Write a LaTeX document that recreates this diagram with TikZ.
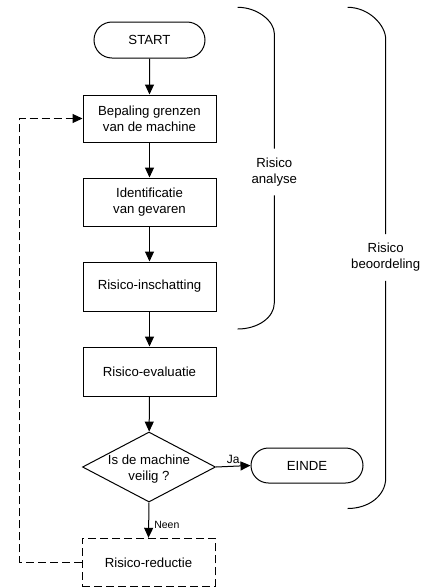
\documentclass[tikz,border=0pt]{standalone}
\usepackage{fontspec}
\setmainfont{Liberation Sans}
\usetikzlibrary{arrows.meta,shapes.geometric,shapes.misc}
\begin{document}
\begin{tikzpicture}[x=1pt,y=-1pt,
  every node/.style={font=\fontsize{13.2}{16}\selectfont, align=center, inner sep=0pt},
  line/.style={line width=1pt},
  arr/.style={line, -{Triangle[length=10pt,width=9pt]}},
  procbox/.style={draw, line, rectangle, minimum width=133pt},
  termbox/.style={draw, line, rounded rectangle, minimum height=35pt},
  decbox/.style={draw, line, diamond, minimum width=133pt, minimum height=70pt},
  dashbox/.style={procbox, dash pattern=on 8pt off 4pt},
  bracelabel/.style={fill=white, inner xsep=2pt, inner ysep=9pt},
  smalllabel/.style={font=\fontsize{10.5}{12}\selectfont}
]
\useasboundingbox (0,0) rectangle (433,587);

\node[termbox, minimum width=111pt, minimum height=36pt] (start) at (149.5,40) {START};
\node[procbox, minimum height=47pt] (b1) at (149.5,118.5) {Bepaling grenzen\\van de machine};
\node[procbox, minimum height=48pt] (b2) at (149.5,202) {Identificatie\\van gevaren};
\node[procbox, minimum height=49pt] (b3) at (149.5,286.5) {Risico-inschatting};
\node[procbox, minimum height=49pt] (b4) at (149.5,371.5) {Risico-evaluatie};
\node[decbox] (dec) at (149,467) {};
\node (dectext) at (149,469) {Is de machine\\veilig ?};
\node[termbox, minimum width=112pt] (einde) at (307,465.5) {EINDE};
\node[dashbox, minimum height=48pt] (red) at (148.5,562.3) {Risico-reductie};

\draw[arr] (start) -- (b1);
\draw[arr] (b1) -- (b2);
\draw[arr] (b2) -- (b3);
\draw[arr] (b3) -- (b4);
\draw[arr] (b4) -- (dec);
\draw[arr] (dec.east) -- node[above, font=\fontsize{12}{14}\selectfont, yshift=2pt] (ja) {Ja} (einde.west);
\draw[arr] (dec.south) -- node[right, smalllabel, xshift=5pt, yshift=-5pt] (neen) {Neen} (red.north);
\draw[arr, dash pattern=on 8pt off 4pt] (red.west) -- ++(-62,0) |- (b1.west);

% Risico analyse bracket
\node[bracelabel] (ra) at (274.3,172) {Risico\\analyse};
\draw[line] (237.7,7.3) .. controls (257.9,7.3) and (274.3,21.6) .. (274.3,33.3) -- (ra.north);
\draw[line] (ra.south) -- (274.3,303) .. controls (274.3,317.4) and (257.9,329) .. (237.7,329);

% Risico beoordeling bracket
\node[bracelabel] (rb) at (385.7,257.5) {Risico\\beoordeling};
\draw[line] (347.7,7.3) .. controls (368.7,7.3) and (385.7,25) .. (385.7,39.3) -- (rb.north);
\draw[line] (rb.south) -- (385.7,478) .. controls (385.7,495.7) and (368.7,508.5) .. (347.7,508.5);
\end{tikzpicture}
\end{document}
